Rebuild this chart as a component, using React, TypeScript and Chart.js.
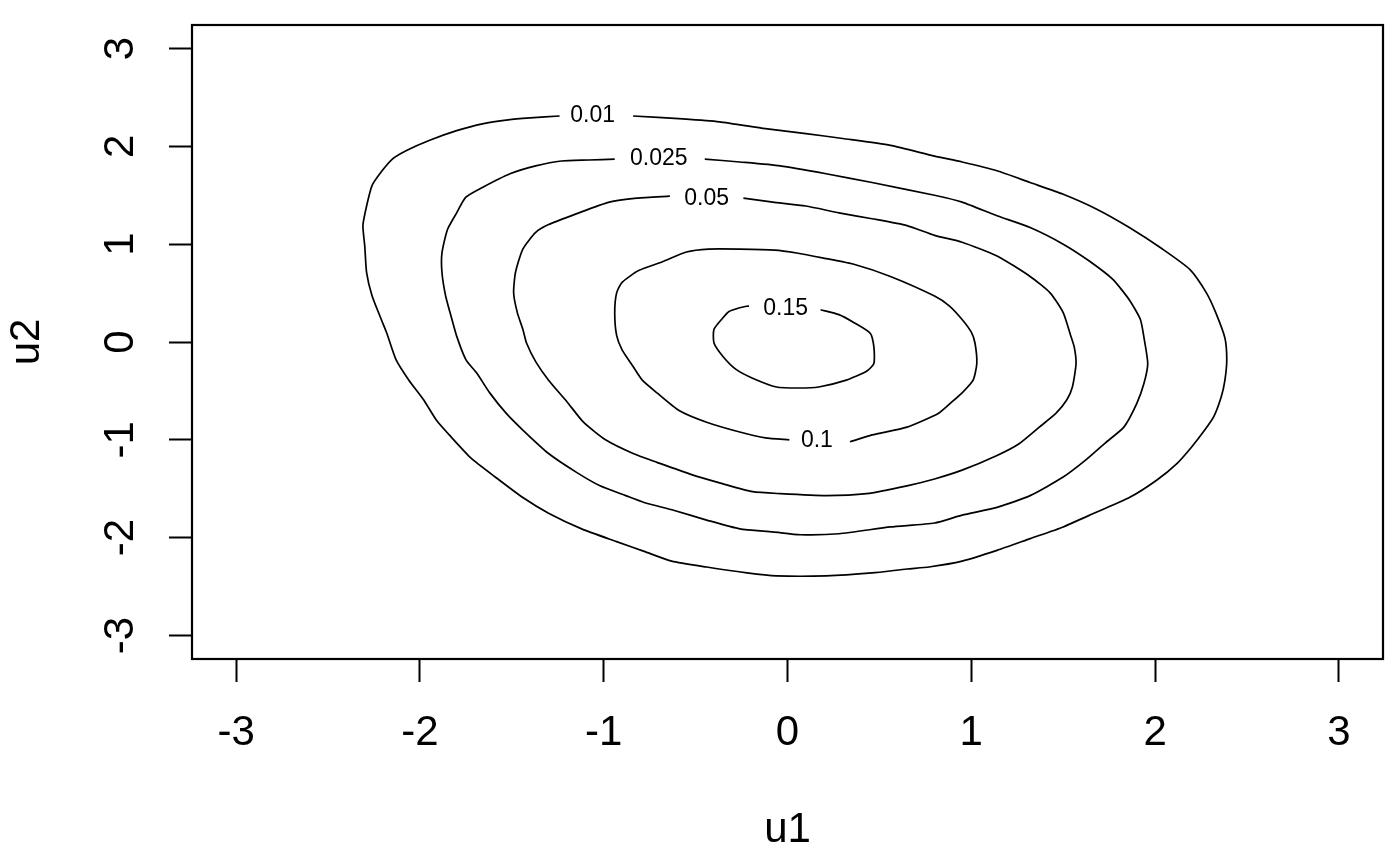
import React, { useEffect, useRef } from 'react';
import { Chart, registerables } from 'chart.js';

Chart.register(...registerables);

const FONT = '"Liberation Sans", Arial, sans-serif';

const tickValues = [-3, -2, -1, 0, 1, 2, 3];
const axisMin = -3.24;
const axisMax = 3.24;

const levelLabels = ['0.01', '0.025', '0.05', '0.1', '0.15'];
const levelLabelX = [-1.06, -0.70, -0.44, 0.16, -0.01];
const levelLabelY = [2.31, 1.87, 1.47, -1.01, 0.34];

const c001X = [-0.84, -0.57, -0.37, -0.12, 0.10, 0.30, 0.56, 0.80, 0.95, 1.14, 1.32, 1.50, 1.68, 1.86, 2.04, 2.19, 2.28, 2.33, 2.38, 2.39, 2.38, 2.36, 2.32, 2.27, 2.20, 2.12, 2.01, 1.86, 1.68, 1.50, 1.32, 1.14, 0.95, 0.77, 0.65, 0.46, 0.21, -0.06, -0.22, -0.44, -0.63, -0.78, -0.93, -1.12, -1.30, -1.44, -1.59, -1.72, -1.84, -1.91, -1.98, -2.06, -2.13, -2.18, -2.21, -2.26, -2.29, -2.30, -2.31, -2.29, -2.26, -2.21, -2.15, -2.07, -1.95, -1.80, -1.66, -1.52, -1.40, -1.24];
const c001Y = [2.31, 2.28, 2.25, 2.18, 2.13, 2.08, 2.01, 1.90, 1.84, 1.75, 1.63, 1.51, 1.36, 1.17, 0.95, 0.74, 0.50, 0.30, 0.04, -0.18, -0.39, -0.56, -0.76, -0.90, -1.07, -1.24, -1.41, -1.59, -1.74, -1.89, -2.01, -2.13, -2.24, -2.30, -2.32, -2.36, -2.39, -2.39, -2.36, -2.30, -2.24, -2.14, -2.04, -1.91, -1.75, -1.59, -1.38, -1.19, -0.95, -0.80, -0.59, -0.39, -0.18, 0.09, 0.23, 0.47, 0.71, 0.98, 1.19, 1.39, 1.60, 1.74, 1.87, 1.96, 2.06, 2.16, 2.23, 2.27, 2.29, 2.31];

const c0025X = [-0.45, -0.26, -0.04, 0.21, 0.46, 0.80, 0.95, 1.14, 1.32, 1.50, 1.64, 1.77, 1.86, 1.92, 1.94, 1.96, 1.94, 1.90, 1.83, 1.73, 1.62, 1.50, 1.32, 1.14, 0.95, 0.80, 0.56, 0.28, 0.07, -0.08, -0.26, -0.44, -0.62, -0.78, -0.88, -1.02, -1.15, -1.30, -1.44, -1.53, -1.62, -1.69, -1.75, -1.80, -1.83, -1.86, -1.88, -1.88, -1.85, -1.80, -1.75, -1.66, -1.51, -1.37, -1.23, -1.08, -0.94];
const c0025Y = [1.87, 1.84, 1.80, 1.72, 1.63, 1.50, 1.43, 1.29, 1.17, 1.00, 0.83, 0.64, 0.43, 0.23, 0.04, -0.22, -0.42, -0.63, -0.87, -1.03, -1.21, -1.38, -1.57, -1.69, -1.77, -1.85, -1.89, -1.96, -1.97, -1.94, -1.91, -1.82, -1.72, -1.64, -1.57, -1.47, -1.33, -1.14, -0.90, -0.73, -0.52, -0.32, -0.18, 0.06, 0.26, 0.47, 0.71, 0.91, 1.15, 1.32, 1.48, 1.58, 1.72, 1.80, 1.85, 1.86, 1.87];

const c005X = [-0.24, -0.08, 0.10, 0.28, 0.46, 0.65, 0.80, 0.95, 1.14, 1.32, 1.43, 1.50, 1.54, 1.56, 1.57, 1.55, 1.52, 1.46, 1.37, 1.26, 1.14, 0.95, 0.80, 0.65, 0.43, 0.21, -0.04, -0.19, -0.35, -0.53, -0.71, -0.84, -0.99, -1.11, -1.20, -1.30, -1.37, -1.42, -1.44, -1.47, -1.49, -1.48, -1.44, -1.37, -1.30, -1.15, -0.97, -0.82, -0.64];
const c005Y = [1.47, 1.43, 1.39, 1.32, 1.26, 1.19, 1.09, 1.02, 0.88, 0.67, 0.50, 0.30, 0.07, -0.05, -0.22, -0.46, -0.59, -0.73, -0.87, -1.04, -1.16, -1.31, -1.40, -1.47, -1.55, -1.57, -1.55, -1.53, -1.45, -1.35, -1.23, -1.14, -1.00, -0.82, -0.61, -0.39, -0.20, -0.01, 0.13, 0.30, 0.50, 0.71, 0.95, 1.12, 1.20, 1.31, 1.43, 1.47, 1.49];

const c01X = [0.34, 0.46, 0.65, 0.82, 0.89, 0.95, 1.01, 1.03, 1.02, 1.00, 0.95, 0.88, 0.80, 0.56, 0.37, 0.19, 0.05, -0.07, -0.26, -0.43, -0.55, -0.68, -0.81, -0.90, -0.93, -0.94, -0.93, -0.90, -0.84, -0.79, -0.71, -0.59, -0.44, -0.26, -0.12, 0.01];
const c01Y = [-1.02, -0.95, -0.87, -0.73, -0.62, -0.52, -0.39, -0.22, -0.01, 0.10, 0.23, 0.37, 0.47, 0.67, 0.79, 0.86, 0.91, 0.94, 0.95, 0.95, 0.92, 0.82, 0.73, 0.61, 0.50, 0.30, 0.07, -0.08, -0.25, -0.39, -0.52, -0.70, -0.82, -0.92, -0.98, -1.00];

const c015X = [0.18, 0.28, 0.36, 0.45, 0.47, 0.47, 0.43, 0.32, 0.17, 0.06, -0.06, -0.19, -0.28, -0.35, -0.40, -0.40, -0.35, -0.32, -0.26, -0.21];
const c015Y = [0.33, 0.28, 0.20, 0.09, -0.05, -0.22, -0.30, -0.39, -0.46, -0.47, -0.46, -0.37, -0.28, -0.15, -0.01, 0.13, 0.25, 0.31, 0.35, 0.37];

const contours = [
  { xs: c001X, ys: c001Y },
  { xs: c0025X, ys: c0025Y },
  { xs: c005X, ys: c005Y },
  { xs: c01X, ys: c01Y },
  { xs: c015X, ys: c015Y },
];

const boxAndLabels = {
  id: 'boxAndLabels',
  afterDatasetsDraw(chart: any) {
    const { ctx, chartArea, scales } = chart;
    const xs = scales.x;
    const ys = scales.y;
    ctx.save();
    ctx.font = `23px ${FONT}`;
    ctx.fillStyle = '#000';
    ctx.textAlign = 'center';
    ctx.textBaseline = 'middle';
    levelLabels.forEach((t, i) => {
      ctx.fillText(t, xs.getPixelForValue(levelLabelX[i]), ys.getPixelForValue(levelLabelY[i]));
    });
    ctx.strokeStyle = '#000';
    ctx.lineWidth = 2.2;
    ctx.strokeRect(chartArea.left, chartArea.top, chartArea.right - chartArea.left, chartArea.bottom - chartArea.top);
    ctx.restore();
  },
};

export default function App() {
  const ref = useRef<HTMLCanvasElement | null>(null);

  useEffect(() => {
    if (!ref.current) return;
    const setTicks = (s: any) => {
      s.ticks = tickValues.map((v) => ({ value: v }));
    };
    const chart = new Chart(ref.current, {
      type: 'scatter',
      data: {
        datasets: contours.map((c) => ({
          data: c.xs.map((x, i) => ({ x, y: c.ys[i] })),
          showLine: true,
          pointRadius: 0,
          borderColor: '#000',
          backgroundColor: '#000',
          borderWidth: 1.7,
          fill: false,
          tension: 0.2,
        })),
      },
      options: {
        responsive: false,
        maintainAspectRatio: false,
        animation: false,
        events: [],
        layout: { padding: { top: 25, right: 14, left: 0, bottom: 0 } },
        plugins: { legend: { display: false }, tooltip: { enabled: false } },
        scales: {
          x: {
            type: 'linear',
            min: axisMin,
            max: axisMax,
            afterBuildTicks: setTicks,
            afterFit: (s: any) => {
              s.height = 198;
              s.paddingLeft = 0;
              s.paddingRight = 0;
            },
            ticks: {
              autoSkip: false,
              maxRotation: 0,
              minRotation: 0,
              padding: 26,
              color: '#000',
              font: { size: 42, family: FONT },
              callback: (v: any) => String(v),
            },
            grid: { drawOnChartArea: false, drawTicks: true, tickLength: 23, tickWidth: 2, tickColor: '#000' },
            border: { display: false },
            title: { display: true, text: 'u1', color: '#000', font: { size: 42, family: FONT }, padding: { top: 0, bottom: 1 } },
          },
          y: {
            type: 'linear',
            min: axisMin,
            max: axisMax,
            afterBuildTicks: setTicks,
            afterFit: (s: any) => {
              s.width = 192;
              s.paddingTop = 0;
              s.paddingBottom = 0;
            },
            ticks: {
              autoSkip: false,
              minRotation: 90,
              maxRotation: 90,
              crossAlign: 'center',
              padding: 29,
              color: '#000',
              font: { size: 42, family: FONT },
              callback: (v: any) => String(v),
            },
            grid: { drawOnChartArea: false, drawTicks: true, tickLength: 23, tickWidth: 2, tickColor: '#000' },
            border: { display: false },
            title: { display: true, text: 'u2', color: '#000', font: { size: 42, family: FONT }, padding: { top: 2.5, bottom: 0 } },
          },
        },
      } as any,
      plugins: [boxAndLabels],
    });
    return () => chart.destroy();
  }, []);

  return (
    <div style={{ position: 'fixed', left: 0, top: 0, width: 1397, height: 857, background: '#fff' }}>
      <canvas ref={ref} width={1397} height={857} style={{ display: 'block' }} />
    </div>
  );
}
